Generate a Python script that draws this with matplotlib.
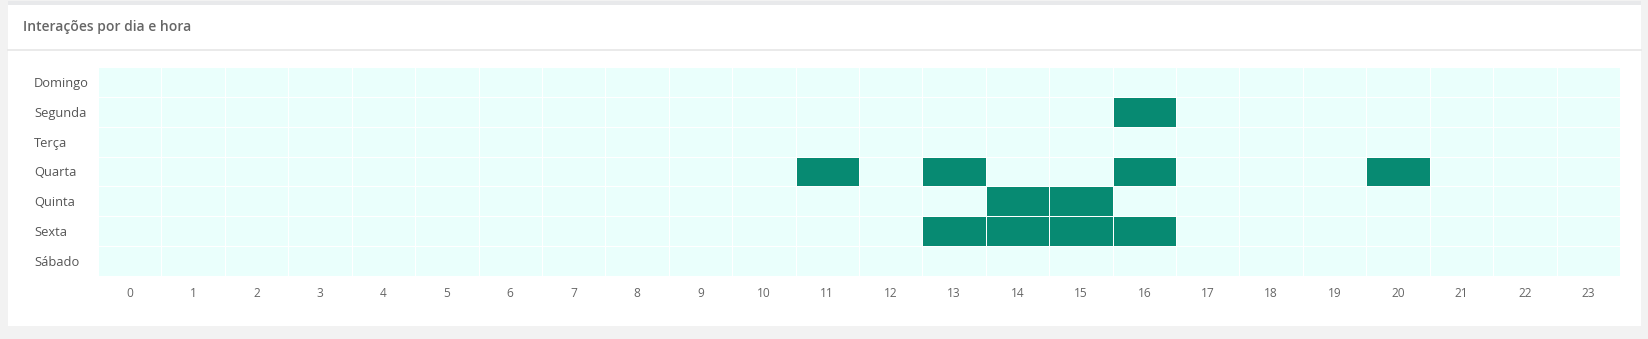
import matplotlib.pyplot as plt
import numpy as np
from matplotlib.colors import ListedColormap
from matplotlib.patches import Rectangle
from matplotlib.lines import Line2D

plt.rcParams['font.family'] = ['Open Sans', 'DejaVu Sans']

# Dados: dias da semana, horas e interações
dias = ['Domingo', 'Segunda', 'Terça', 'Quarta', 'Quinta', 'Sexta', 'Sábado']
horas = list(range(24))
# horas com interação, por dia
interacoes_segunda = [16]
interacoes_quarta = [11, 13, 16, 20]
interacoes_quinta = [14, 15]
interacoes_sexta = [13, 14, 15, 16]

valores = np.zeros((len(dias), len(horas)))
for h in interacoes_segunda:
    valores[1, h] = 1
for h in interacoes_quarta:
    valores[3, h] = 1
for h in interacoes_quinta:
    valores[4, h] = 1
for h in interacoes_sexta:
    valores[5, h] = 1

W, H = 1648, 339
fig = plt.figure(figsize=(W / 100, H / 100), dpi=100)
fig.patch.set_facecolor('#f2f2f2')

# Cartão branco (atrás do eixo)
fig.patches.append(Rectangle((8 / W, 1 - 6 / H), (1641 - 8) / W, 5 / H, zorder=-10,
                             transform=fig.transFigure, facecolor='#e8e9eb', edgecolor='none'))
fig.patches.append(Rectangle((8 / W, 1 - 326 / H), (1641 - 8) / W, (326 - 5) / H, zorder=-10,
                             transform=fig.transFigure, facecolor='white', edgecolor='none'))
fig.lines.append(Line2D([8 / W, 1641 / W], [1 - 50 / H, 1 - 50 / H], zorder=-5,
                        transform=fig.transFigure, color='#e6e6e6', linewidth=1.2))
fig.text(23 / W, 1 - 27 / H, 'Interações por dia e hora', fontsize=10, fontweight='semibold',
         color='#666666', ha='left', va='center')

ax = fig.add_axes([98 / W, 1 - 276 / H, (1620 - 98) / W, (276 - 67) / H])
ax.set_zorder(5)
cmap = ListedColormap(['#eafffc', '#078a72'])
ax.pcolormesh(np.arange(25) - 0.5, np.arange(8) - 0.5, valores, cmap=cmap, vmin=0, vmax=1,
              edgecolors='white', linewidth=0.6)
ax.set_xlim(-0.5, 23.5)
ax.set_ylim(6.5, -0.5)
ax.set_xticks(horas)
ax.set_xticklabels([str(h) for h in horas])
ax.set_yticks(range(len(dias)))
ax.set_yticklabels(dias)
for s in ax.spines.values():
    s.set_visible(False)
ax.tick_params(axis='x', length=0, pad=8, labelsize=8.6, labelcolor='#666666')
ax.tick_params(axis='y', length=0, pad=46, labelsize=9.3, labelcolor='#555555')
for lbl in ax.get_yticklabels():
    lbl.set_horizontalalignment('left')

fig.savefig('out.png', dpi=100, facecolor=fig.get_facecolor())
